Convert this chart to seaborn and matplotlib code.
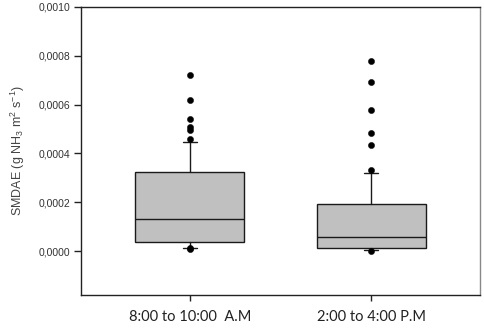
import matplotlib
matplotlib.use("Agg")
import matplotlib.pyplot as plt
from matplotlib.ticker import FuncFormatter, FixedLocator
import seaborn as sns
import pandas as pd

# ---- data ----
categories = ["8:00 to 10:00  A.M", "2:00 to 4:00 P.M"]
whisker_low = [0.000012, 0.000004]
q1_values = [0.000037, 0.0000135]
median_values = [0.000130, 0.000056]
q3_values = [0.000325, 0.000191]
whisker_high = [0.000448, 0.000318]
outliers_am = [0.000721, 0.000619, 0.000540, 0.000508, 0.000495, 0.000458, 0.000008, 0.000012]
outliers_pm = [0.000780, 0.000693, 0.000577, 0.000484, 0.000433, 0.000332, 0.000001]
y_ticks = [0.0, 0.0002, 0.0004, 0.0006, 0.0008, 0.0010]

sns.set_style("ticks")
plt.rcParams["font.family"] = ["Liberation Sans", "DejaVu Sans"]
plt.rcParams["mathtext.fontset"] = "custom"
plt.rcParams["mathtext.rm"] = "Liberation Sans"
plt.rcParams["mathtext.it"] = "Liberation Sans:italic"
plt.rcParams["mathtext.bf"] = "Liberation Sans:bold"
plt.rcParams["mathtext.default"] = "rm"

fig = plt.figure(figsize=(4.84, 3.28), dpi=100)
ax = fig.add_axes([81 / 484, 1 - 295 / 328, 399 / 484, 288 / 328])

stats = []
for i, c in enumerate(categories):
    stats.append(dict(label=c, whislo=whisker_low[i], q1=q1_values[i], med=median_values[i],
                      q3=q3_values[i], whishi=whisker_high[i], fliers=[]))

ax.bxp(stats, positions=[0, 1], widths=0.6, capwidths=0.08, patch_artist=True,
       showfliers=False,
       boxprops=dict(facecolor="#c0c0c0", edgecolor="#1a1a1a", linewidth=1.0),
       medianprops=dict(color="#1a1a1a", linewidth=1.0),
       whiskerprops=dict(color="#1a1a1a", linewidth=1.0),
       capprops=dict(color="#1a1a1a", linewidth=1.0))

out_df = pd.DataFrame({
    "group": [categories[0]] * len(outliers_am) + [categories[1]] * len(outliers_pm),
    "value": outliers_am + outliers_pm,
})
out_df["pos"] = out_df["group"].map({c: i for i, c in enumerate(categories)})
sns.scatterplot(data=out_df, x="pos", y="value", color="black", s=20,
                edgecolor="black", linewidth=0.3, ax=ax, zorder=5, legend=False)

ax.set_xlim(-0.6, 1.6)
ax.set_ylim(-0.00018, 0.0010)
ax.yaxis.set_major_locator(FixedLocator(y_ticks))
ax.yaxis.set_major_formatter(FuncFormatter(lambda v, p: f"{v:.4f}".replace(".", ",")))
ax.set_xticks([0, 1])
ax.set_xticklabels(categories, fontfamily=["Lato", "DejaVu Sans"], fontsize=10.5, color="#222222")
ax.set_xlabel("")
ax.set_ylabel("SMDAE (g NH$_3$ m$^2$ s$^{-1}$)", fontsize=9, color="#444444", labelpad=8)

for lab in ax.get_yticklabels():
    lab.set_fontsize(7.5)
    lab.set_color("#333333")

ax.tick_params(axis="y", direction="out", length=5, width=1, color="#222222", pad=3)
ax.tick_params(axis="x", direction="out", length=4, width=1, color="#222222", pad=7)

for side in ["left", "bottom", "top"]:
    ax.spines[side].set_visible(True)
    ax.spines[side].set_color("#222222")
    ax.spines[side].set_linewidth(1.0)
ax.spines["right"].set_visible(True)
ax.spines["right"].set_color("#888888")
ax.spines["right"].set_linewidth(1.0)

fig.savefig("out.png", dpi=100)
